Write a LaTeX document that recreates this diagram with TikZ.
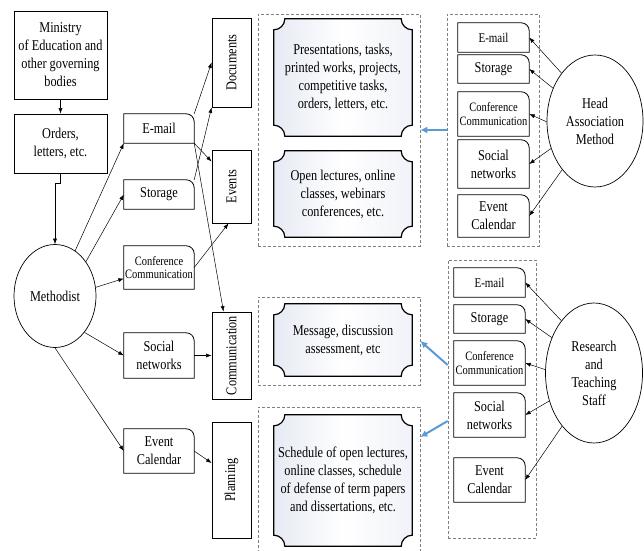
\documentclass[tikz,border=0pt]{standalone}
\usepackage{fontspec}
\setmainfont{Liberation Serif}[FakeStretch=0.82]
\usetikzlibrary{arrows.meta,shapes.geometric,calc}

\definecolor{linkblue}{RGB}{91,155,213}
\definecolor{plaqueblue}{RGB}{230,234,243}

\tikzset{
  txt/.style={font=\fontsize{15}{18}\selectfont, align=center, inner sep=1pt},
  small/.style={font=\fontsize{12.8}{13.5}\selectfont},
  mid/.style={font=\fontsize{13.4}{15}\selectfont},
  box/.style={txt, draw, line width=0.8pt, minimum width=93pt},
  tab/.style={txt, minimum width=70pt},
  bar/.style={draw, line width=0.8pt, minimum width=39pt},
  group/.style={draw=gray, dash pattern=on 3pt off 2pt, line width=0.7pt, minimum width=162pt},
  actor/.style={txt, draw, ellipse, inner sep=0pt, line width=0.7pt},
  plaque/.style={txt, minimum width=140pt, path picture={
    \coordinate (pa) at ([shift={(0.8pt,0.8pt)}]path picture bounding box.south west);
    \coordinate (pb) at ([shift={(-0.8pt,-0.8pt)}]path picture bounding box.north east);
    \draw[line width=1.2pt, left color=plaqueblue, right color=plaqueblue!60, middle color=white]
      ($(pa|-pb)+(11pt,0)$) -- ($(pb)+(-11pt,0)$) arc[start angle=180,end angle=270,radius=11pt]
      -- ($(pb|-pa)+(0,11pt)$) arc[start angle=90,end angle=180,radius=11pt]
      -- ($(pa)+(11pt,0)$) arc[start angle=0,end angle=90,radius=11pt]
      -- ($(pa|-pb)+(0,-11pt)$) arc[start angle=270,end angle=360,radius=11pt] -- cycle;
  }},
  arr/.style={draw, line width=0.5pt, -{Latex[length=5.5pt,width=4pt]}},
  bluearr/.style={draw=linkblue, line width=2pt, -{Latex[length=7pt,width=7pt]}}
}

\begin{document}
\begin{tikzpicture}[x=1pt, y=1pt]
  \useasboundingbox (0,0) rectangle (644,550);
  \clip (0,0) rectangle (644,550);

  % methodist side
  \node[box, minimum height=88pt] (ministry) at (60.5,495) {Ministry\\of Education and\\other governing\\bodies};
  \node[box, minimum height=59pt] (orders) at (60.5,406.5) {Orders,\\letters, etc.};
  \node[actor, minimum width=82pt, minimum height=103pt] (meth) at (55,254) {Methodist};

  \node[tab, minimum height=29pt] (email) at (159,421.5) {E-mail};
  \node[tab, minimum height=29pt] (storage) at (159,355.5) {Storage};
  \node[tab, small, minimum height=43pt] (conf) at (159,282.5) {Conference\\Communication};
  \node[tab, minimum height=45pt] (social) at (159,194.5) {Social\\networks};
  \node[tab, minimum height=44pt] (event) at (159,99) {Event\\Calendar};

  \node[bar, minimum height=89pt, label={[txt,rotate=90]center:Documents}] (docs) at (231.5,487.5) {};
  \node[bar, minimum height=73pt, label={[txt,rotate=90]center:Events}] (events) at (231.5,363.5) {};
  \node[bar, minimum height=87pt, label={[txt,rotate=90]center:Communication}] (comm) at (231.5,194.5) {};
  \node[bar, minimum height=116pt, label={[txt,rotate=90]center:Planning}] (plan) at (231.5,70) {};

  % results
  \node[group, minimum height=232pt] (g1) at (339,420) {};
  \node[group, minimum height=88pt] (g2) at (339,209) {};
  \node[group, minimum height=148pt] (g3) at (339,69) {};

  \node[plaque, minimum height=119pt] (pres) at (343,472.5) {Presentations, tasks,\\printed works, projects,\\competitive tasks,\\orders, letters, etc.};
  \node[plaque, minimum height=88pt] (open) at (343,356) {Open lectures, online\\classes, webinars\\conferences, etc.};
  \node[plaque, minimum height=74pt] (msg) at (343,210) {Message, discussion\\assessment, etc};
  \node[plaque, minimum height=133pt] (sched) at (343,69.5) {Schedule of open lectures,\\online classes, schedule\\of defense of term papers\\and dissertations, etc.};

  % head of association
  \node[group, minimum width=92pt, minimum height=232pt] (rtop) at (493,420) {};
  \node[tab, mid, minimum width=71pt, minimum height=29pt] (hmail) at (493.5,512.5) {E-mail};
  \node[tab, minimum width=71pt, minimum height=28pt] (hstor) at (493.5,481) {Storage};
  \node[tab, small, minimum width=71pt, minimum height=44pt] (hconf) at (493.5,436) {Conference\\Communication};
  \node[tab, minimum width=71pt, minimum height=48pt] (hsoc) at (493.5,386) {Social\\networks};
  \node[tab, minimum width=71pt, minimum height=42pt] (hcal) at (493.5,334) {Event\\Calendar};
  \node[actor, minimum width=96pt, minimum height=132pt] (head) at (595,429) {Head\\Association\\Method};

  % staff
  \node[group, minimum width=88pt, minimum height=278pt] (rbot) at (492,151) {};
  \node[tab, mid, minimum width=71pt, minimum height=29pt] (smail) at (489.5,267.5) {E-mail};
  \node[tab, minimum width=71pt, minimum height=28pt] (sstor) at (489.5,231) {Storage};
  \node[tab, small, minimum width=71pt, minimum height=44pt] (sconf) at (489.5,187) {Conference\\Communication};
  \node[tab, minimum width=71pt, minimum height=44pt] (ssoc) at (489.5,135) {Social\\networks};
  \node[tab, minimum width=71pt, minimum height=44pt] (scal) at (489.5,70) {Event\\Calendar};
  \node[actor, minimum width=97pt, minimum height=140pt] (staff) at (594,177) {Research\\and\\Teaching\\Staff};

  \foreach \n in {email,storage,conf,social,event,hmail,hstor,hconf,hsoc,hcal,smail,sstor,sconf,ssoc,scal}
    \draw[line width=0.8pt] (\n.south west) -- (\n.north west) -- ([xshift=-8pt]\n.north east)
      arc[start angle=90,end angle=0,radius=8pt] -- (\n.south east) -- cycle;

  \draw[arr] (ministry) -- (orders);
  \draw[arr] (orders.south) -- ++(0,-10) -| (meth.north);

  \draw[arr] (meth.66) -- (email.south west);
  \draw[arr] (meth.48) -- (storage.west);
  \draw[arr] (meth.12) -- ([yshift=-11pt]conf.west);
  \draw[arr] (meth.-51) -- (social.west);
  \draw[arr] (meth.south) -- (event.west);

  \draw[arr] (email.north east) -- (docs.west);
  \draw[arr] (email.south east) -- ([yshift=-12pt]events.north west);
  \draw[arr] (email.south east) -- ([xshift=-8pt]comm.north);
  \draw[arr] (storage.north east) -- (docs.south west);
  \draw[arr] (conf.east) -- ([xshift=-3pt]events.south);
  \draw[arr] (social) -- (comm);
  \draw[arr] (event.east) -- ([yshift=17pt]plan.west);

  \foreach \ang/\n in {125/hmail,142/hstor,181/hconf,212/hsoc,236/hcal}
    \draw[arr] (head.\ang) -- (\n.east);
  \foreach \ang/\n in {122/smail,140/sstor,176/sconf,212/ssoc,239/scal}
    \draw[arr] (staff.\ang) -- (\n.east);

  \draw[bluearr] (rtop.west) -- (g1.east);
  \draw[bluearr] ([yshift=34pt]rbot.west) -- (g2.east);
  \draw[bluearr] ([yshift=-22pt]rbot.west) -- ([yshift=44pt]g3.east);
\end{tikzpicture}
\end{document}
